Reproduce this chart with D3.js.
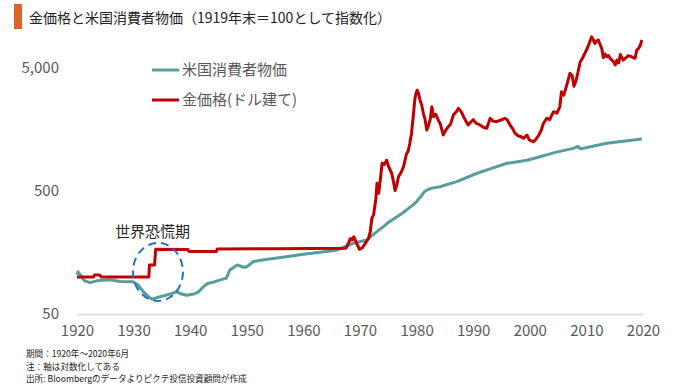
<!DOCTYPE html>
<html>
<head>
<meta charset="utf-8">
<script src="https://cdn.jsdelivr.net/npm/d3@7"></script>
<style>
  body { margin: 0; background: #fff; }
  svg { display: block; font-family: "Noto Sans CJK JP", sans-serif; }
</style>
</head>
<body>
<svg id="chart"></svg>
<script>
// 米国消費者物価 (1919年末=100), [year, index]
const cpiData = [
  [1920.0, 104], [1920.2, 110], [1920.6, 104], [1921.0, 97], [1921.4, 93],
  [1922.3, 90], [1923.5, 93], [1925.8, 95], [1927.6, 92], [1929.9, 91.5],
  [1930.8, 86], [1931.7, 76], [1932.5, 70], [1933.2, 66], [1934.7, 69],
  [1936.4, 72.6], [1937.6, 76], [1938.3, 73], [1939.4, 71], [1940.8, 73],
  [1941.5, 76], [1942.3, 83], [1943.0, 88], [1944.0, 90.6], [1945.8, 96],
  [1946.4, 98], [1947.0, 114], [1948.3, 125], [1949.5, 120], [1950.0, 121],
  [1951.1, 133], [1952.5, 137], [1954.0, 140], [1957.0, 146], [1960.0, 153],
  [1963.0, 159], [1966.0, 166], [1968.8, 188], [1971.2, 200], [1971.8, 212],
  [1974.1, 256], [1974.8, 273], [1977.4, 328], [1979.2, 380], [1980.0, 410],
  [1981.5, 500], [1982.5, 525], [1984.1, 542], [1987.1, 596], [1990.7, 697],
  [1993.5, 770], [1996.0, 840], [1999.5, 890], [2001.8, 950], [2004.5, 1030],
  [2007.7, 1111], [2008.5, 1150], [2009.0, 1100], [2010.5, 1140], [2013.6, 1221],
  [2016.5, 1270], [2019.8, 1324]
];

// 金価格(ドル建て) (1919年末=100), [year, index]
const goldData = [
  [1920.0, 100], [1922.9, 100], [1923.1, 104], [1924.0, 104], [1924.3, 100],
  [1932.7, 100], [1932.8, 125], [1933.7, 125], [1933.9, 168], [1939.6, 167],
  [1939.8, 161], [1944.6, 161], [1944.8, 169], [1955.0, 170], [1967.5, 171],
  [1968.0, 190], [1968.3, 205], [1968.6, 200], [1968.9, 212], [1969.4, 188],
  [1969.9, 168], [1970.4, 172], [1971.0, 190], [1971.5, 205], [1971.8, 232],
  [1972.1, 300], [1972.4, 320], [1972.8, 430], [1973.0, 578], [1973.3, 480],
  [1973.6, 620], [1973.9, 840], [1974.3, 820], [1974.7, 890], [1975.1, 780],
  [1975.6, 697], [1975.9, 600], [1976.2, 505], [1976.5, 560], [1976.8, 653],
  [1977.2, 700], [1977.7, 789], [1978.2, 1000], [1978.5, 1050], [1978.8, 1221],
  [1979.1, 1470], [1979.4, 2010], [1979.7, 2800], [1979.9, 3130], [1980.1, 3300],
  [1980.3, 3150], [1980.6, 2750], [1980.9, 2500], [1981.2, 2142], [1981.5, 1900],
  [1981.8, 1567], [1982.1, 1700], [1982.4, 1900], [1982.7, 2425], [1983.0, 2010],
  [1983.4, 2100], [1983.8, 1900], [1984.2, 1750], [1984.7, 1427], [1985.1, 1550],
  [1985.6, 1667], [1986.0, 1750], [1986.5, 2073], [1987.0, 2200], [1987.4, 2350],
  [1987.9, 2200], [1988.3, 2010], [1988.7, 1850], [1989.1, 1720], [1989.5, 1800],
  [1990.0, 1900], [1990.5, 1780], [1991.2, 1720], [1991.8, 1650], [1992.4, 1618],
  [1993.0, 1950], [1993.5, 1850], [1994.1, 1830], [1994.8, 1880], [1995.6, 1950],
  [1996.0, 1900], [1996.5, 1720], [1997.0, 1600], [1997.4, 1472], [1998.0, 1400],
  [1998.5, 1380], [1998.9, 1340], [1999.5, 1427], [1999.9, 1300], [2000.6, 1258],
  [2001.0, 1300], [2001.5, 1400], [2002.0, 1550], [2002.4, 1770], [2003.0, 1950],
  [2003.5, 1900], [2004.2, 2206], [2004.8, 2150], [2005.3, 2420], [2005.6, 3207],
  [2006.0, 3000], [2006.5, 3600], [2007.1, 4527], [2007.5, 4300], [2007.8, 3550],
  [2008.2, 4000], [2008.6, 4817], [2008.9, 5600], [2009.3, 6000], [2009.8, 6700],
  [2010.2, 7300], [2010.6, 8180], [2010.9, 8950], [2011.2, 8500], [2011.5, 7920],
  [2011.8, 8300], [2012.1, 8440], [2012.4, 7800], [2012.7, 7230], [2013.0, 6070],
  [2013.3, 6500], [2013.6, 6180], [2013.9, 6300], [2014.3, 5900], [2014.7, 5700],
  [2015.1, 5290], [2015.4, 5800], [2015.7, 5500], [2016.0, 6430], [2016.5, 5800],
  [2016.9, 6000], [2017.4, 6300], [2017.9, 6200], [2018.3, 6070], [2018.6, 6000],
  [2018.9, 7000], [2019.2, 7200], [2019.5, 7600], [2019.8, 8440]
];

const xTicks = [1920, 1930, 1940, 1950, 1960, 1970, 1980, 1990, 2000, 2010, 2020];
const yTicks = [50, 500, 5000];

const seriesNames = ["米国消費者物価", "金価格(ドル建て)"];
const seriesColors = ["#579d9e", "#c00000"];

const titleText = "金価格と米国消費者物価（1919年末＝100として指数化）";
const noteLines = [
  "期間：1920年～2020年6月",
  "注：軸は対数化してある",
  "出所: Bloombergのデータよりピクテ投信投資顧問が作成"
];

// size
const width = 680;
const height = 388;

const svg = d3.select("#chart")
  .attr("width", width)
  .attr("height", height);

svg.append("rect")
  .attr("width", width)
  .attr("height", height)
  .attr("fill", "#fff");

// scales
const x = d3.scaleLinear()
  .domain([1920, 2020])
  .range([77, 643]);

const y = d3.scaleLog()
  .domain([50, 5000])
  .range([314, 68]);

// title
svg.append("rect")
  .attr("x", 14)
  .attr("y", 4)
  .attr("width", 8)
  .attr("height", 25)
  .attr("fill", "#dc6329");

svg.append("text")
  .attr("x", 29)
  .attr("y", 23)
  .attr("font-size", 14)
  .attr("fill", "#222")
  .text(titleText);

// x axis
const xAxis = svg.append("g")
  .attr("transform", `translate(0, ${y(50)})`)
  .call(d3.axisBottom(x).tickValues(xTicks).tickSize(0).tickPadding(11).tickFormat(d3.format("d")));

xAxis.select(".domain")
  .attr("stroke", "#d9d9d9")
  .attr("stroke-width", 1.5);

xAxis.selectAll("text")
  .attr("font-size", 15)
  .attr("font-family", "\"Noto Sans CJK JP\", sans-serif")
  .attr("fill", "#595959");

// y axis
const yAxis = svg.append("g")
  .attr("transform", `translate(${x(1920)}, 0)`)
  .call(d3.axisLeft(y).tickValues(yTicks).tickSize(0).tickPadding(18).tickFormat(d3.format(",")));

yAxis.select(".domain").remove();

yAxis.selectAll("text")
  .attr("font-size", 15)
  .attr("font-family", "\"Noto Sans CJK JP\", sans-serif")
  .attr("fill", "#595959");

// lines
const line = d3.line()
  .x(d => x(d[0]))
  .y(d => y(d[1]));

svg.append("path")
  .datum(cpiData)
  .attr("fill", "none")
  .attr("stroke", seriesColors[0])
  .attr("stroke-width", 3)
  .attr("stroke-linejoin", "round")
  .attr("d", line);

svg.append("path")
  .datum(goldData)
  .attr("fill", "none")
  .attr("stroke", seriesColors[1])
  .attr("stroke-width", 3)
  .attr("stroke-linejoin", "round")
  .attr("d", line);

// legend
const legend = svg.append("g")
  .attr("transform", "translate(152, 70)");

const legendItem = legend.selectAll(".legend-item")
  .data(seriesNames)
  .enter()
  .append("g")
  .attr("class", "legend-item")
  .attr("transform", (d, i) => `translate(0, ${i * 30})`);

legendItem.append("line")
  .attr("x1", 0)
  .attr("x2", 27)
  .attr("stroke", (d, i) => seriesColors[i])
  .attr("stroke-width", 3);

legendItem.append("text")
  .attr("x", 30)
  .attr("dy", "0.35em")
  .attr("font-size", 15)
  .attr("fill", "#595959")
  .text(d => d);

// 世界恐慌期 annotation
svg.append("ellipse")
  .attr("cx", x(1934.3))
  .attr("cy", y(110))
  .attr("rx", 25)
  .attr("ry", 29)
  .attr("fill", "none")
  .attr("stroke", "#1f70c1")
  .attr("stroke-width", 2)
  .attr("stroke-dasharray", "8,5");

svg.append("text")
  .attr("x", 115)
  .attr("y", 237)
  .attr("font-size", 15)
  .attr("fill", "#222")
  .text("世界恐慌期");

// notes
svg.selectAll(".note")
  .data(noteLines)
  .enter()
  .append("text")
  .attr("class", "note")
  .attr("x", 26)
  .attr("y", (d, i) => 357 + i * 12.6)
  .attr("font-size", 8.6)
  .attr("fill", "#222")
  .text(d => d);
</script>
</body>
</html>
